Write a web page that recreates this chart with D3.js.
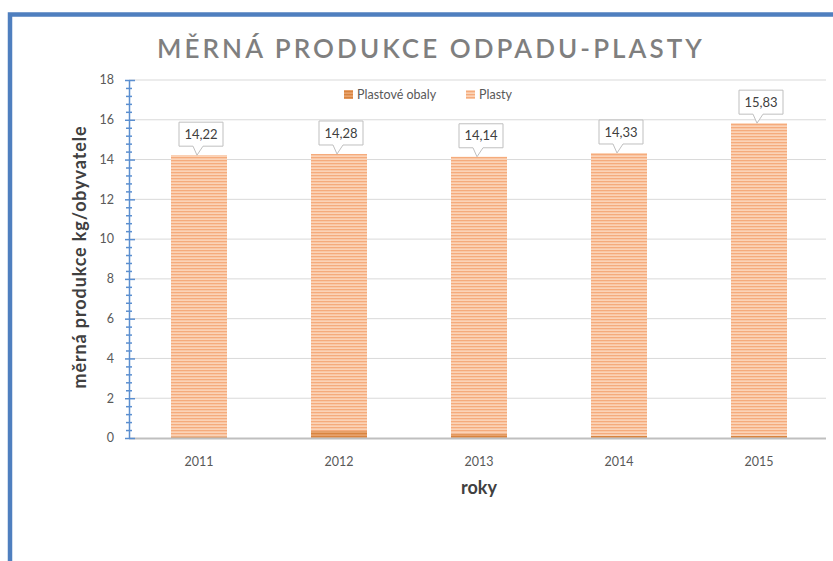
<!DOCTYPE html>
<html>
<head>
<meta charset="utf-8">
<script src="https://cdn.jsdelivr.net/npm/d3@7"></script>
<style>
  body { margin: 0; background: #fff; }
  svg { display: block; }
  text { font-family: Lato, "Open Sans", sans-serif; }
</style>
</head>
<body>
<svg id="chart" width="833" height="561"></svg>
<script>
// data
const years = ["2011", "2012", "2013", "2014", "2015"];
const obaly = [0.08, 0.35, 0.22, 0.12, 0.12];      // Plastové obaly
const plasty = [14.14, 13.93, 13.92, 14.21, 15.71]; // Plasty
const totals = [14.22, 14.28, 14.14, 14.33, 15.83]; // data labels
const seriesNames = ["Plastové obaly", "Plasty"];
const yTicks = [0, 2, 4, 6, 8, 10, 12, 14, 16, 18];

const svg = d3.select("#chart");
const W = 833, H = 561;
const margin = { left: 129, right: 7, top: 80, bottom: 123 };

// chart frame (blue border, cropped on right/bottom)
svg.append("path")
  .attr("d", `M10,${H} L10,14.5 L${W},14.5`)
  .attr("fill", "none")
  .attr("stroke", "#4f7fbf")
  .attr("stroke-width", 4.5);

// stripe patterns
const defs = svg.append("defs");
function stripes(id, bg, fg) {
  const p = defs.append("pattern")
    .attr("id", id)
    .attr("patternUnits", "userSpaceOnUse")
    .attr("width", 8).attr("height", 3);
  p.append("rect").attr("width", 8).attr("height", 3).attr("fill", bg);
  p.append("rect").attr("y", 1).attr("width", 8).attr("height", 1.3).attr("fill", fg);
}
stripes("pPlasty", "#fbd3b7", "#f5ab7c");
stripes("pObaly", "#e8a26c", "#d8843f");
const fills = ["url(#pObaly)", "url(#pPlasty)"];

const x = d3.scaleBand()
  .domain(years)
  .range([margin.left, margin.left + 700])
  .paddingInner(0.6)
  .paddingOuter(0.3);

const y = d3.scaleLinear()
  .domain([0, 18])
  .range([438, 80]);

// fit a text to a target width with letter-spacing
function fitWidth(sel, target) {
  const len = sel.node().getComputedTextLength();
  const n = sel.text().length;
  sel.style("letter-spacing", `${(target - len) / n}px`);
}

// title
const title = svg.append("text")
  .attr("x", 431)
  .attr("y", 58)
  .attr("text-anchor", "middle")
  .style("font-size", "26px")
  .style("font-weight", "600")
  .style("fill", "#7f7f7f")
  .text("MĚRNÁ PRODUKCE ODPADU-PLASTY");
fitWidth(title, 548);

// gridlines
svg.append("g")
  .selectAll("line")
  .data(yTicks.filter(d => d > 0))
  .join("line")
  .attr("x1", margin.left)
  .attr("x2", 826)
  .attr("y1", d => y(d))
  .attr("y2", d => y(d))
  .attr("stroke", "#d9d9d9")
  .attr("stroke-width", 1);

// stacked bars
const stackData = years.map((yr, i) => ({ year: yr, obaly: obaly[i], plasty: plasty[i] }));
const stack = d3.stack().keys(["obaly", "plasty"])(stackData);

svg.append("g")
  .selectAll("g")
  .data(stack)
  .join("g")
  .attr("fill", (d, i) => fills[i])
  .selectAll("rect")
  .data(d => d)
  .join("rect")
  .attr("x", d => x(d.data.year))
  .attr("width", x.bandwidth())
  .attr("y", d => y(d[1]))
  .attr("height", d => y(d[0]) - y(d[1]));

// x axis line
svg.append("line")
  .attr("x1", margin.left)
  .attr("x2", 826)
  .attr("y1", 438.5)
  .attr("y2", 438.5)
  .attr("stroke", "#bfbfbf")
  .attr("stroke-width", 2);

// x tick labels
svg.append("g")
  .selectAll("text")
  .data(years)
  .join("text")
  .attr("x", d => x(d) + x.bandwidth() / 2)
  .attr("y", 466)
  .attr("text-anchor", "middle")
  .style("font-size", "12.5px")
  .style("fill", "#595959")
  .text(d => d);

// y axis with minor ticks
const isMajor = d => Math.abs(d / 2 - Math.round(d / 2)) < 1e-6;
const yAxis = d3.axisLeft(y)
  .tickValues(d3.range(0, 18.01, 0.4))
  .tickSize(0)
  .tickFormat("");
const ya = svg.append("g")
  .attr("transform", `translate(${margin.left},0)`)
  .call(yAxis);
ya.select(".domain").attr("stroke", "#5b8fd0").attr("stroke-width", 1.5);
ya.selectAll(".tick line")
  .attr("x1", d => isMajor(d) ? -4 : -3)
  .attr("x2", d => isMajor(d) ? 6 : 3)
  .attr("stroke", "#5b8fd0")
  .attr("stroke-width", 1.5);

// y tick labels
svg.append("g")
  .selectAll("text")
  .data(yTicks)
  .join("text")
  .attr("x", 114)
  .attr("y", d => y(d))
  .attr("dy", "0.35em")
  .attr("text-anchor", "end")
  .style("font-size", "12.5px")
  .style("fill", "#595959")
  .text(d => d);

// axis titles
const yTitle = svg.append("text")
  .attr("transform", `translate(86,257) rotate(-90)`)
  .attr("text-anchor", "middle")
  .style("font-size", "18px")
  .style("font-weight", "700")
  .style("fill", "#404040")
  .text("měrná produkce kg/obyvatele");
fitWidth(yTitle, 263);

svg.append("text")
  .attr("x", x("2013") + x.bandwidth() / 2)
  .attr("y", 494)
  .attr("text-anchor", "middle")
  .style("font-size", "18px")
  .style("font-weight", "700")
  .style("fill", "#404040")
  .text("roky");

// legend
const legend = svg.append("g");
const legendX = [344, 466];
seriesNames.forEach((name, i) => {
  legend.append("rect")
    .attr("x", legendX[i])
    .attr("y", 90)
    .attr("width", 9)
    .attr("height", 9)
    .attr("fill", fills[i]);
  legend.append("text")
    .attr("x", legendX[i] + 13)
    .attr("y", 99)
    .style("font-size", "12.5px")
    .style("fill", "#595959")
    .text(name);
});

// data label callouts
const fmt = v => d3.format(".2f")(v).replace(".", ",");
const callouts = svg.append("g")
  .selectAll("g")
  .data(years.map((yr, i) => ({ year: yr, total: totals[i] })))
  .join("g")
  .attr("transform", d => `translate(${x(d.year) + x.bandwidth() / 2},${y(d.total)})`);

const bw = 44, bh = 24, gap = 9;
callouts.append("path")
  .attr("d", `M${-bw / 2 + 2},${-gap - bh} H${bw / 2 + 2} V${-gap} H4 L-2,0 L-6,${-gap} H${-bw / 2 + 2} Z`)
  .attr("fill", "#fff")
  .attr("stroke", "#bfbfbf")
  .attr("stroke-width", 1);

callouts.append("text")
  .attr("x", 2)
  .attr("y", -gap - bh / 2)
  .attr("dy", "0.36em")
  .attr("text-anchor", "middle")
  .style("font-size", "13px")
  .style("fill", "#404040")
  .text(d => fmt(d.total));
</script>
</body>
</html>
